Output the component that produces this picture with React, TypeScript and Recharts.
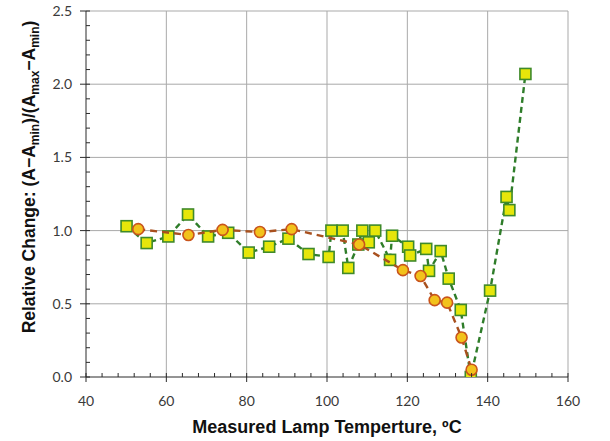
import { ScatterChart, Scatter, XAxis, YAxis, CartesianGrid } from 'recharts';

// green squares (connected in measurement order)
const greenTemps = [50.1, 55.1, 60.5, 65.4, 70.4, 75.4, 80.5, 85.6, 90.4, 95.4, 100.4, 101.1, 103.9, 105.3, 107.8, 108.8, 110.4, 112.0, 115.7, 116.2, 120.2, 120.7, 124.7, 125.4, 128.3, 130.3, 133.3, 135.8, 140.6, 144.7, 145.4, 149.4];
const greenValues = [1.03, 0.915, 0.96, 1.11, 0.96, 0.985, 0.85, 0.89, 0.945, 0.84, 0.82, 1.0, 1.0, 0.745, 0.905, 1.0, 0.92, 1.0, 0.8, 0.965, 0.89, 0.83, 0.875, 0.725, 0.86, 0.672, 0.458, 0.0, 0.59, 1.23, 1.14, 2.07];

// orange circles
const orangeTemps = [53.0, 65.5, 74.0, 83.3, 91.2, 108.0, 118.9, 123.3, 126.8, 129.9, 133.5, 136.0];
const orangeValues = [1.01, 0.97, 1.005, 0.99, 1.01, 0.905, 0.73, 0.69, 0.525, 0.508, 0.27, 0.05];

const xTicks = [40, 44, 48, 52, 56, 60, 64, 68, 72, 76, 80, 84, 88, 92, 96, 100, 104, 108, 112, 116, 120, 124, 128, 132, 136, 140, 144, 148, 152, 156, 160];
const xMajor = [40, 60, 80, 100, 120, 140, 160];
const yTicks = [0, 0.1, 0.2, 0.3, 0.4, 0.5, 0.6, 0.7, 0.8, 0.9, 1.0, 1.1, 1.2, 1.3, 1.4, 1.5, 1.6, 1.7, 1.8, 1.9, 2.0, 2.1, 2.2, 2.3, 2.4, 2.5];
const yMajor = [0, 0.5, 1.0, 1.5, 2.0, 2.5];

const greenData = greenTemps.map((t, i) => ({ x: t, y: greenValues[i] }));
const orangeData = orangeTemps.map((t, i) => ({ x: t, y: orangeValues[i] }));

const AXIS = '#2b2b2b';
const GRID = '#a9a9a9';
const TICK_FONT = 'Lato, "Open Sans", sans-serif';
const LABEL_FONT = '"Liberation Sans", Arial, sans-serif';

const isMajor = (v: number, list: number[]) => list.some((m) => Math.abs(m - v) < 1e-6);

const XTick = ({ x, y, payload }: any) => {
  const major = isMajor(payload.value, xMajor);
  return (
    <g>
      <line x1={x} x2={x} y1={y - 4} y2={major ? y + 5 : y} stroke={AXIS} strokeWidth={1} />
      {major && (
        <text x={x} y={y + 29} textAnchor="middle" fontFamily={TICK_FONT} fontSize={14} fill="#3a3a3a">
          {payload.value}
        </text>
      )}
    </g>
  );
};

const YTick = ({ x, y, payload }: any) => {
  const major = isMajor(payload.value, yMajor);
  return (
    <g>
      <line x1={major ? x - 6 : x} x2={x + 4} y1={y} y2={y} stroke={AXIS} strokeWidth={1} />
      {major && (
        <text x={x - 14} y={y + 5} textAnchor="end" fontFamily={TICK_FONT} fontSize={14} fill="#3a3a3a">
          {payload.value.toFixed(1)}
        </text>
      )}
    </g>
  );
};

const Square = (props: any) => {
  const { cx, cy } = props;
  if (cx == null || cy == null) return null;
  return <rect x={cx - 5.5} y={cy - 5.5} width={11} height={11} fill="#e6e60a" stroke="#3f8a2a" strokeWidth={1.6} />;
};

const Dot = (props: any) => {
  const { cx, cy } = props;
  if (cx == null || cy == null) return null;
  return <circle cx={cx} cy={cy} r={5.5} fill="#f2c21b" stroke="#c9541c" strokeWidth={1.6} />;
};

const YLabel = () => (
  <text
    x={35}
    y={177}
    transform="rotate(-90, 35, 177)"
    textAnchor="middle"
    fontFamily={LABEL_FONT}
    fontWeight="bold"
    fontSize={17.5}
    fill="#111"
  >
    Relative Change: (A−A
    <tspan dy={4} fontSize={12}>min</tspan>
    <tspan dy={-4}>)/(A</tspan>
    <tspan dy={4} fontSize={12}>max</tspan>
    <tspan dy={-4}>−A</tspan>
    <tspan dy={4} fontSize={12}>min</tspan>
    <tspan dy={-4}>)</tspan>
  </text>
);

const XLabel = () => (
  <text x={327} y={433} textAnchor="middle" fontFamily={LABEL_FONT} fontWeight="bold" fontSize={18} fill="#111">
    Measured Lamp Temperture, ºC
  </text>
);

export default function App() {
  return (
    <div style={{ position: 'absolute', left: 0, top: 0, width: 610, height: 441, background: '#fff' }}>
      <ScatterChart width={610} height={441} margin={{ top: 11, right: 42, left: 0, bottom: 0 }}>
        <CartesianGrid
          stroke={GRID}
          strokeWidth={1}
          verticalValues={[60, 80, 100, 120, 140, 160]}
          horizontalValues={[0.5, 1.0, 1.5, 2.0, 2.5]}
        />
        <XAxis
          type="number"
          dataKey="x"
          domain={[40, 160]}
          ticks={xTicks}
          interval={0}
          height={64}
          tickSize={0}
          tickMargin={0}
          tickLine={false}
          tick={<XTick />}
          stroke={AXIS}
          allowDataOverflow
          label={{ content: <XLabel /> }}
        />
        <YAxis
          type="number"
          dataKey="y"
          domain={[0, 2.5]}
          ticks={yTicks}
          interval={0}
          width={86}
          tickSize={0}
          tickMargin={0}
          tickLine={false}
          tick={<YTick />}
          stroke={AXIS}
          allowDataOverflow
          label={{ content: <YLabel /> }}
        />
        <Scatter
          data={greenData}
          isAnimationActive={false}
          line={{ stroke: '#2f7d2a', strokeWidth: 2.4, strokeDasharray: '6 4' }}
          shape={<Square />}
        />
        <Scatter
          data={orangeData}
          isAnimationActive={false}
          line={{ stroke: '#a8501e', strokeWidth: 2.4, strokeDasharray: '7 5' }}
          shape={<Dot />}
        />
      </ScatterChart>
    </div>
  );
}
